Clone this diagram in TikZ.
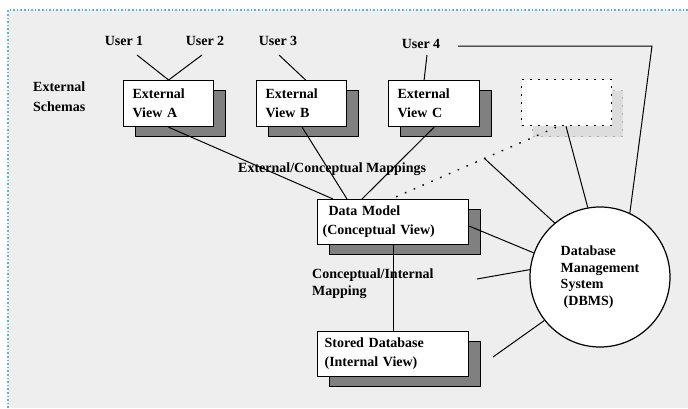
\documentclass[tikz,border=0pt]{standalone}
\usepackage{fontspec}
\setmainfont{Liberation Serif}
\usetikzlibrary{shadows,calc}
\definecolor{bg}{HTML}{EEEEEE}
\definecolor{bordercyan}{HTML}{5CB8D2}
\definecolor{shadowgray}{HTML}{808080}
\definecolor{lightshadow}{HTML}{DDDDDD}
\begin{document}
\begin{tikzpicture}[x=1pt,y=-1pt,
  font=\fontsize{14}{19}\selectfont\bfseries,
  conn/.style={draw=black,line width=1pt},
  lbl/.style={inner sep=0pt,align=left,text height=10pt,text depth=3pt},
  mlbl/.style={inner sep=0pt,align=left},
  viewbox/.style={draw=black,line width=1.2pt,fill=white,anchor=north west,
    inner ysep=0pt,minimum height=46pt,align=left,
    drop shadow={shadow xshift=12pt,shadow yshift=-10pt,fill=shadowgray,
      draw=black,line width=1.2pt,opacity=1}},
  ghostbox/.style={draw=black,dash pattern=on 2pt off 6pt,line width=1.3pt,fill=white,anchor=north west,
    minimum width=90pt,minimum height=46pt,inner sep=0pt,
    drop shadow={shadow xshift=11pt,shadow yshift=-11pt,fill=lightshadow,
      draw=gray!60,dash pattern=on 2pt off 6pt,line width=1.2pt,opacity=1}},
  dbmsnode/.style={circle,draw=black,line width=1.2pt,fill=white,minimum size=140pt,
    inner sep=0pt,align=left,font=\fontsize{14}{16.5}\selectfont\bfseries}
]
\useasboundingbox (0,0) rectangle (688,408);
\fill[bg] (8,10) rectangle (688,408);
\draw[bordercyan,dotted,line width=1.6pt] (8,408) -- (8,10) -- (688,10);

% labels
\node[lbl] (u1) at (124,42) {User 1};
\node[lbl] (u2) at (205,42) {User 2};
\node[lbl] (u3) at (278,42) {User 3};
\node[lbl] (u4) at (421,45) {User 4};
\node[mlbl,anchor=west,font=\fontsize{14}{20}\selectfont\bfseries] (ext) at (33,97) {External\\Schemas};
\node[lbl,anchor=west] (ecm) at (238,169) {External/Conceptual Mappings};
\node[mlbl,anchor=west,font=\fontsize{14}{17}\selectfont\bfseries] (cim) at (312,284) {Conceptual/Internal\\Mapping};

% boxes
\node[viewbox,inner xsep=9pt,text width=72pt] (A) at (123,80) {External\\View A};
\node[viewbox,inner xsep=9pt,text width=72pt] (B) at (256,80) {External\\View B};
\node[viewbox,inner xsep=9pt,text width=73pt] (C) at (388,80) {External\\View C};
\node[ghostbox] (X) at (521,79) {};
\node[viewbox,inner xsep=5pt,text width=141pt,minimum height=45pt] (DM) at (317,199) {\hspace*{6pt}Data Model\\(Conceptual View)};
\node[viewbox,inner xsep=7pt,text width=137pt,minimum height=45pt] (SD) at (317,331) {Stored Database\\(Internal View)};
\node[dbmsnode] (dbms) at (600,277) {Database\\Management\\System\\\hspace*{3pt}(DBMS)};

% free ends
\coordinate (u1b) at (137,55);
\coordinate (u2b) at (202,55);
\coordinate (u3b) at (279,55);
\coordinate (u4b) at (427,55);
\coordinate (u4r) at (458,46);
\coordinate (u4c) at (652,46);
\coordinate (f1) at (484,158);
\coordinate (f2) at (477,279);
\coordinate (f3) at (493,357);

% connectors
\draw[conn] (u1b) -- (A.north);
\draw[conn] (u2b) -- (A.north);
\draw[conn] (u3b) -- ([xshift=4pt]B.north);
\draw[conn] (u4b) -- ([xshift=-10pt]C.north);
\draw[conn] (u4r) -- (u4c) -- (dbms.65);
\draw[conn] (A.south) -- ([xshift=16pt]DM.north west);
\draw[conn] ([xshift=0.5pt]B.south) -- ([xshift=30pt]DM.north west);
\draw[conn] (C.south) -- ([xshift=45pt]DM.north west);
\draw[conn,dash pattern=on 1.6pt off 8pt,line width=1.4pt] ([xshift=35pt,yshift=-1pt]X.south west) -- ([xshift=-2pt]DM.north);
\draw[conn] ([xshift=45pt]X.south west) -- (dbms.100);
\draw[conn] (f1) -- (dbms.130);
\draw[conn] ([yshift=-4pt]DM.east) -- (dbms.160);
\draw[conn] (f2) -- (dbms.174);
\draw[conn] (f3) -- (dbms.218);
\draw[conn] (DM.south) -- (SD.north);
\end{tikzpicture}
\end{document}
